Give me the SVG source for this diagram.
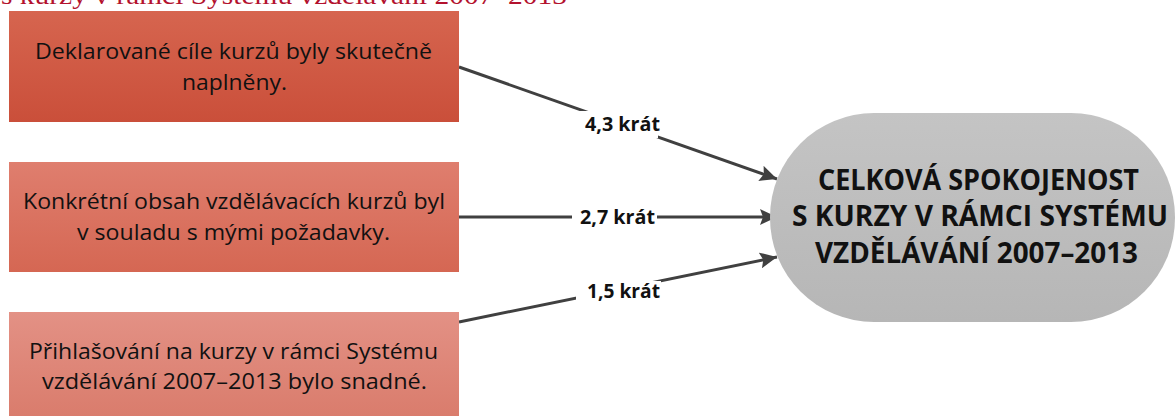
<svg xmlns="http://www.w3.org/2000/svg" width="1176" height="416" viewBox="0 0 1176 416">
<style>
.cap{font-family:"Liberation Serif","Times New Roman",serif;font-size:25px;fill:#b3122e}
.bt{font-family:"Open Sans","Liberation Sans",sans-serif;font-size:21px;fill:#111}
.ct{font-family:"Open Sans","Liberation Sans",sans-serif;font-size:29px;font-weight:bold;fill:#111}
.lb{font-family:"Open Sans","Liberation Sans",sans-serif;font-size:19px;font-weight:bold;fill:#111}
.cn{stroke:#404040;stroke-width:3;fill:none}
</style>
<defs>
<linearGradient id="g1" x1="0" y1="0" x2="0" y2="1"><stop offset="0" stop-color="#d6654f"/><stop offset="1" stop-color="#ca4f3a"/></linearGradient>
<linearGradient id="g2" x1="0" y1="0" x2="0" y2="1"><stop offset="0" stop-color="#df7e6e"/><stop offset="1" stop-color="#d56753"/></linearGradient>
<linearGradient id="g3" x1="0" y1="0" x2="0" y2="1"><stop offset="0" stop-color="#e39185"/><stop offset="1" stop-color="#d97b6b"/></linearGradient>
<linearGradient id="g4" x1="0" y1="0" x2="0" y2="1"><stop offset="0" stop-color="#c4c4c4"/><stop offset="1" stop-color="#b6b6b6"/></linearGradient>
<marker id="ah" markerUnits="userSpaceOnUse" markerWidth="18" markerHeight="16" refX="17" refY="8" orient="auto"><path d="M0,0 L17,8 L0,16 L3,8 z" fill="#404040"/></marker>
</defs>
<text class="cap" x="1" y="4" textLength="566" lengthAdjust="spacingAndGlyphs">s kurzy v rámci Systému vzdělávání 2007–2013</text>
<g id="connectors">
<line class="cn" x1="459" y1="67" x2="777" y2="179" marker-end="url(#ah)"/>
<line class="cn" x1="459" y1="217" x2="777" y2="217" marker-end="url(#ah)"/>
<line class="cn" x1="459" y1="322" x2="777" y2="257" marker-end="url(#ah)"/>
<rect x="578" y="111" width="80" height="27" fill="#fff"/>
<rect x="572" y="205" width="85" height="25" fill="#fff"/>
<rect x="576" y="281" width="85" height="21" fill="#fff"/>
<text class="lb" x="585" y="131" textLength="75" lengthAdjust="spacingAndGlyphs">4,3 krát</text>
<text class="lb" x="580" y="224" textLength="75" lengthAdjust="spacingAndGlyphs">2,7 krát</text>
<text class="lb" x="587" y="298" textLength="73" lengthAdjust="spacingAndGlyphs">1,5 krát</text>
</g>
<g id="n1">
<rect x="9" y="11" width="450" height="111" fill="url(#g1)"/>
<text class="bt" x="35" y="59" textLength="397" lengthAdjust="spacingAndGlyphs">Deklarované cíle kurzů byly skutečně</text>
<text class="bt" x="182" y="90" textLength="105" lengthAdjust="spacingAndGlyphs">naplněny.</text>
</g>
<g id="n2">
<rect x="9" y="162" width="450" height="110" fill="url(#g2)"/>
<text class="bt" x="23" y="209" textLength="422" lengthAdjust="spacingAndGlyphs">Konkrétní obsah vzdělávacích kurzů byl</text>
<text class="bt" x="77" y="240" textLength="313" lengthAdjust="spacingAndGlyphs">v souladu s mými požadavky.</text>
</g>
<g id="n3">
<rect x="9" y="312" width="450" height="110" fill="url(#g3)"/>
<text class="bt" x="29" y="359" textLength="409" lengthAdjust="spacingAndGlyphs">Přihlašování na kurzy v rámci Systému</text>
<text class="bt" x="42" y="389" textLength="385" lengthAdjust="spacingAndGlyphs">vzdělávání 2007–2013 bylo snadné.</text>
</g>
<g id="n4">
<rect x="770" y="113" width="405" height="209" rx="104" ry="104" fill="url(#g4)"/>
<text class="ct" x="818" y="190" textLength="321" lengthAdjust="spacingAndGlyphs">CELKOVÁ SPOKOJENOST</text>
<text class="ct" x="792" y="226" textLength="376" lengthAdjust="spacingAndGlyphs">S KURZY V RÁMCI SYSTÉMU</text>
<text class="ct" x="815" y="263" textLength="323" lengthAdjust="spacingAndGlyphs">VZDĚLÁVÁNÍ 2007–2013</text>
</g>
</svg>
